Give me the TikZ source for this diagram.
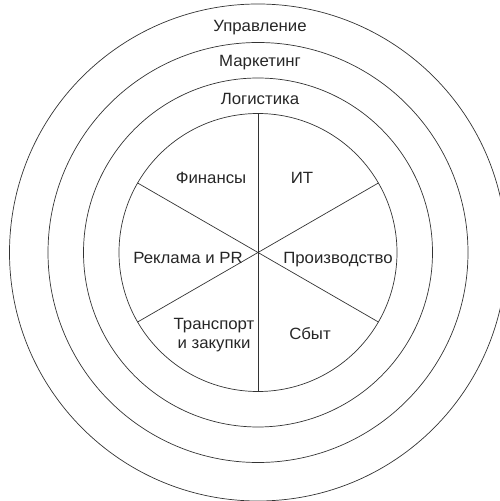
\documentclass[tikz,border=0pt]{standalone}
\usepackage{fontspec}
\setmainfont{Liberation Sans}
\newfontfamily\lblfont[FakeStretch=1.03]{Liberation Sans}
\begin{document}
\begin{tikzpicture}[x=1pt,y=1pt,
  ring/.style={draw=black!80,line width=0.7pt},
  lbl/.style={font=\lblfont\fontsize{16.3}{18}\selectfont,text=black!85,inner sep=0pt,anchor=base}]
\clip (0,0) rectangle (500,501);
\useasboundingbox (0,0) rectangle (500,501);
\coordinate (c) at (258,248.5);
\draw[ring] (c) circle[radius=248.5];
\draw[ring] (c) circle[radius=210];
\draw[ring] (c) circle[radius=174.5];
\draw[ring] (c) circle[radius=139];
\foreach \a in {90,270,30,150,210,330}{\draw[ring] (c) -- ++(\a:139);}
\node[lbl] (upr) at (260,469.5) {Управление};
\node[lbl] (mark) at (260,434.3) {Маркетинг};
\node[lbl] (log) at (260,396) {Логистика};
\node[lbl] (fin) at (211,317) {Финансы};
\node[lbl] (it) at (302,317) {ИТ};
\node[lbl] (rek) at (188,237.7) {Реклама и PR};
\node[lbl] (proizv) at (338,237.7) {Производство};
\node[lbl] (tr1) at (214,171) {Транспорт};
\node[lbl] (tr2) at (214,152.7) {и закупки};
\node[lbl] (sbyt) at (310,161) {Сбыт};
\end{tikzpicture}
\end{document}
